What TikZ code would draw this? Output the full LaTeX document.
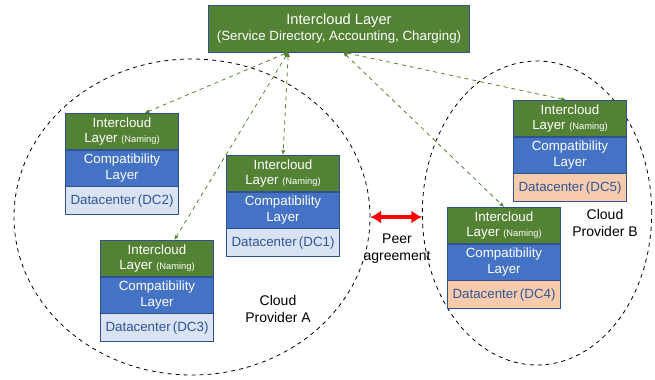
\documentclass[tikz,border=0pt]{standalone}
\usepackage{fontspec}
\setmainfont{Liberation Sans}
\usetikzlibrary{arrows.meta,positioning,shapes.geometric,calc}
\definecolor{iclgreen}{HTML}{548235}
\definecolor{cmpblue}{HTML}{4472C4}
\definecolor{edgeblue}{HTML}{2F528F}
\definecolor{dclight}{HTML}{DAE3F3}
\definecolor{dcpeach}{HTML}{F8CBAD}
\definecolor{dctext}{HTML}{2F5597}

\begin{document}
\begin{tikzpicture}[x=0.75pt,y=-0.75pt,
  every node/.style={font=\fontsize{10}{11.5}\selectfont,align=center,inner sep=1pt},
  layer/.style={rectangle,draw=edgeblue,line width=.5pt,minimum width=85pt,text=white},
  icl/.style={layer,fill=iclgreen,minimum height=27pt},
  cmp/.style={layer,fill=cmpblue,minimum height=27pt},
  dcbox/.style={layer,fill=dclight,minimum height=21pt,text=dctext},
  dcboxB/.style={dcbox,fill=dcpeach},
  provider/.style={ellipse,draw,dashed,line width=.6pt,inner sep=0pt},
  link/.style={dashed,draw=iclgreen,line width=.6pt,{Latex[length=3.5pt,width=3pt]}-{Latex[length=3.5pt,width=3pt]}},
  peer/.style={draw=red,line width=2.6pt,{Latex[length=8pt,width=10pt]}-{Latex[length=8pt,width=10pt]}},
  naming/.style={font=\fontsize{7}{8}\selectfont}]
\useasboundingbox (0,0) rectangle (655,379);

% Clouds
\node[provider,minimum width=267pt,minimum height=237pt] (cloudA) at (192,217) {};
\node[provider,minimum width=172pt,minimum height=228pt] (cloudB) at (537,213) {};

% Nodes
\node[icl,minimum width=196pt,minimum height=35pt] (top) at (339,28.5) {{\fontsize{11}{13.5}\selectfont Intercloud Layer}\\(Service Directory, Accounting, Charging)};

\node[icl,anchor=north west] (icl2) at (65,113) {Intercloud\\Layer {\fontsize{7}{8}\selectfont(Naming)}};
\node[cmp,below=0pt of icl2] (cmp2) {Compatibility\\Layer};
\node[dcbox,below=0pt of cmp2] (dc2) {Datacenter\,(DC2)};

\node[icl,anchor=north west] (icl1) at (226,155) {Intercloud\\Layer {\fontsize{7}{8}\selectfont(Naming)}};
\node[cmp,below=0pt of icl1] (cmp1) {Compatibility\\Layer};
\node[dcbox,below=0pt of cmp1] (dc1) {Datacenter\,(DC1)};

\node[icl,anchor=north west] (icl3) at (100,240) {Intercloud\\Layer {\fontsize{7}{8}\selectfont(Naming)}};
\node[cmp,below=0pt of icl3] (cmp3) {Compatibility\\Layer};
\node[dcbox,below=0pt of cmp3] (dc3) {Datacenter\,(DC3)};

\node[icl,anchor=north west] (icl5) at (513,100) {Intercloud\\Layer {\fontsize{7}{8}\selectfont(Naming)}};
\node[cmp,below=0pt of icl5] (cmp5) {Compatibility\\Layer};
\node[dcboxB,below=0pt of cmp5] (dc5) {Datacenter\,(DC5)};

\node[icl,anchor=north west] (icl4) at (447,207) {Intercloud\\Layer {\fontsize{7}{8}\selectfont(Naming)}};
\node[cmp,below=0pt of icl4] (cmp4) {Compatibility\\Layer};
\node[dcboxB,below=0pt of cmp4] (dc4) {Datacenter\,(DC4)};

% labels
\node[font=\fontsize{10.5}{12.75}\selectfont] (provA) at (278,309) {Cloud\\Provider A};
\node[font=\fontsize{10.5}{12.75}\selectfont] (provB) at (605,223) {Cloud\\Provider B};
\node[font=\fontsize{10.5}{12.75}\selectfont] (peerlbl) at (397,249) {Peer\\agreement};

%arcs
\coordinate (tl) at ([xshift=-38pt]top.south);
\coordinate (tr) at ([xshift=3pt]top.south);
\path (tl) edge[link] ([xshift=17pt]icl2.north);
\path (tl) edge[link] (icl1.north);
\path (tl) edge[link] ([xshift=13pt]icl3.north);
\path (tr) edge[link] (icl4.north);
\path (tr) edge[link] ([xshift=-3pt]icl5.north);

\path (cloudA.east) edge[peer] (cloudA.east -| cloudB.west);

\end{tikzpicture}
\end{document}
